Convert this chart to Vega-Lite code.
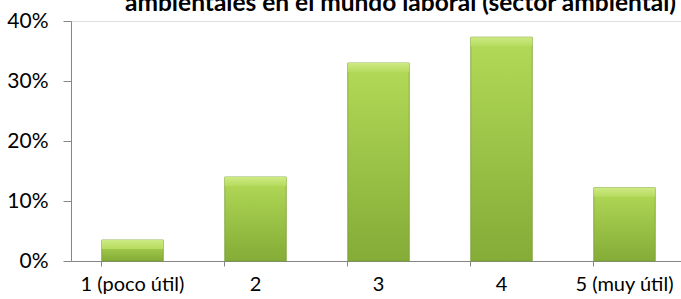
{
  "$schema": "https://vega.github.io/schema/vega-lite/v6.json",
  "width": 615,
  "height": 240,
  "autosize": {"type": "none"},
  "padding": {"left": 71, "top": 21, "right": 0, "bottom": 38},
  "background": "white",
  "title": {
    "text": "ambientales en el mundo laboral (sector ambiental)",
    "font": "Lato",
    "fontSize": 24.5,
    "fontWeight": "bold",
    "color": "#000000",
    "anchor": "middle",
    "frame": "group",
    "baseline": "alphabetic",
    "offset": 6,
    "dx": 22,
    "dy": 31
  },
  "data": {
    "values": [
      {"cat": "1 (poco útil)", "pct": 0.035},
      {"cat": "2", "pct": 0.14},
      {"cat": "3", "pct": 0.33},
      {"cat": "4", "pct": 0.373},
      {"cat": "5 (muy útil)", "pct": 0.122}
    ]
  },
  "encoding": {
    "x": {
      "field": "cat",
      "type": "nominal",
      "sort": null,
      "scale": {"paddingInner": 0.5, "paddingOuter": 0.25},
      "axis": {
        "title": null,
        "labelAngle": 0,
        "bandPosition": 0,
        "labelFont": "Lato",
        "labelFontSize": 20,
        "labelColor": "#000000",
        "labelPadding": 8,
        "domainColor": "#868686",
        "tickColor": "#868686",
        "tickSize": 5
      }
    },
    "y": {
      "field": "pct",
      "type": "quantitative",
      "scale": {"domain": [0, 0.4]},
      "axis": {
        "title": null,
        "format": ".0%",
        "values": [0, 0.1, 0.2, 0.3, 0.4],
        "grid": false,
        "labelFont": "Lato",
        "labelFontSize": 21,
        "labelColor": "#000000",
        "labelPadding": 15,
        "domainColor": "#868686",
        "tickColor": "#868686",
        "tickSize": 8
      }
    }
  },
  "layer": [
    {
      "mark": {
        "type": "bar",
        "stroke": "#7a9e34",
        "strokeWidth": 0.8,
        "fill": {
          "gradient": "linear",
          "x1": 0, "y1": 0, "x2": 0, "y2": 1,
          "stops": [
            {"offset": 0, "color": "#b3da57"},
            {"offset": 1, "color": "#84ac37"}
          ]
        }
      }
    },
    {
      "mark": {
        "type": "bar",
        "y2Offset": 9,
        "fill": {
          "gradient": "linear",
          "x1": 0, "y1": 0, "x2": 0, "y2": 1,
          "stops": [
            {"offset": 0, "color": "#cdea84"},
            {"offset": 1, "color": "#b6db5e"}
          ]
        }
      },
      "encoding": {"y2": {"field": "pct"}}
    }
  ]
}
